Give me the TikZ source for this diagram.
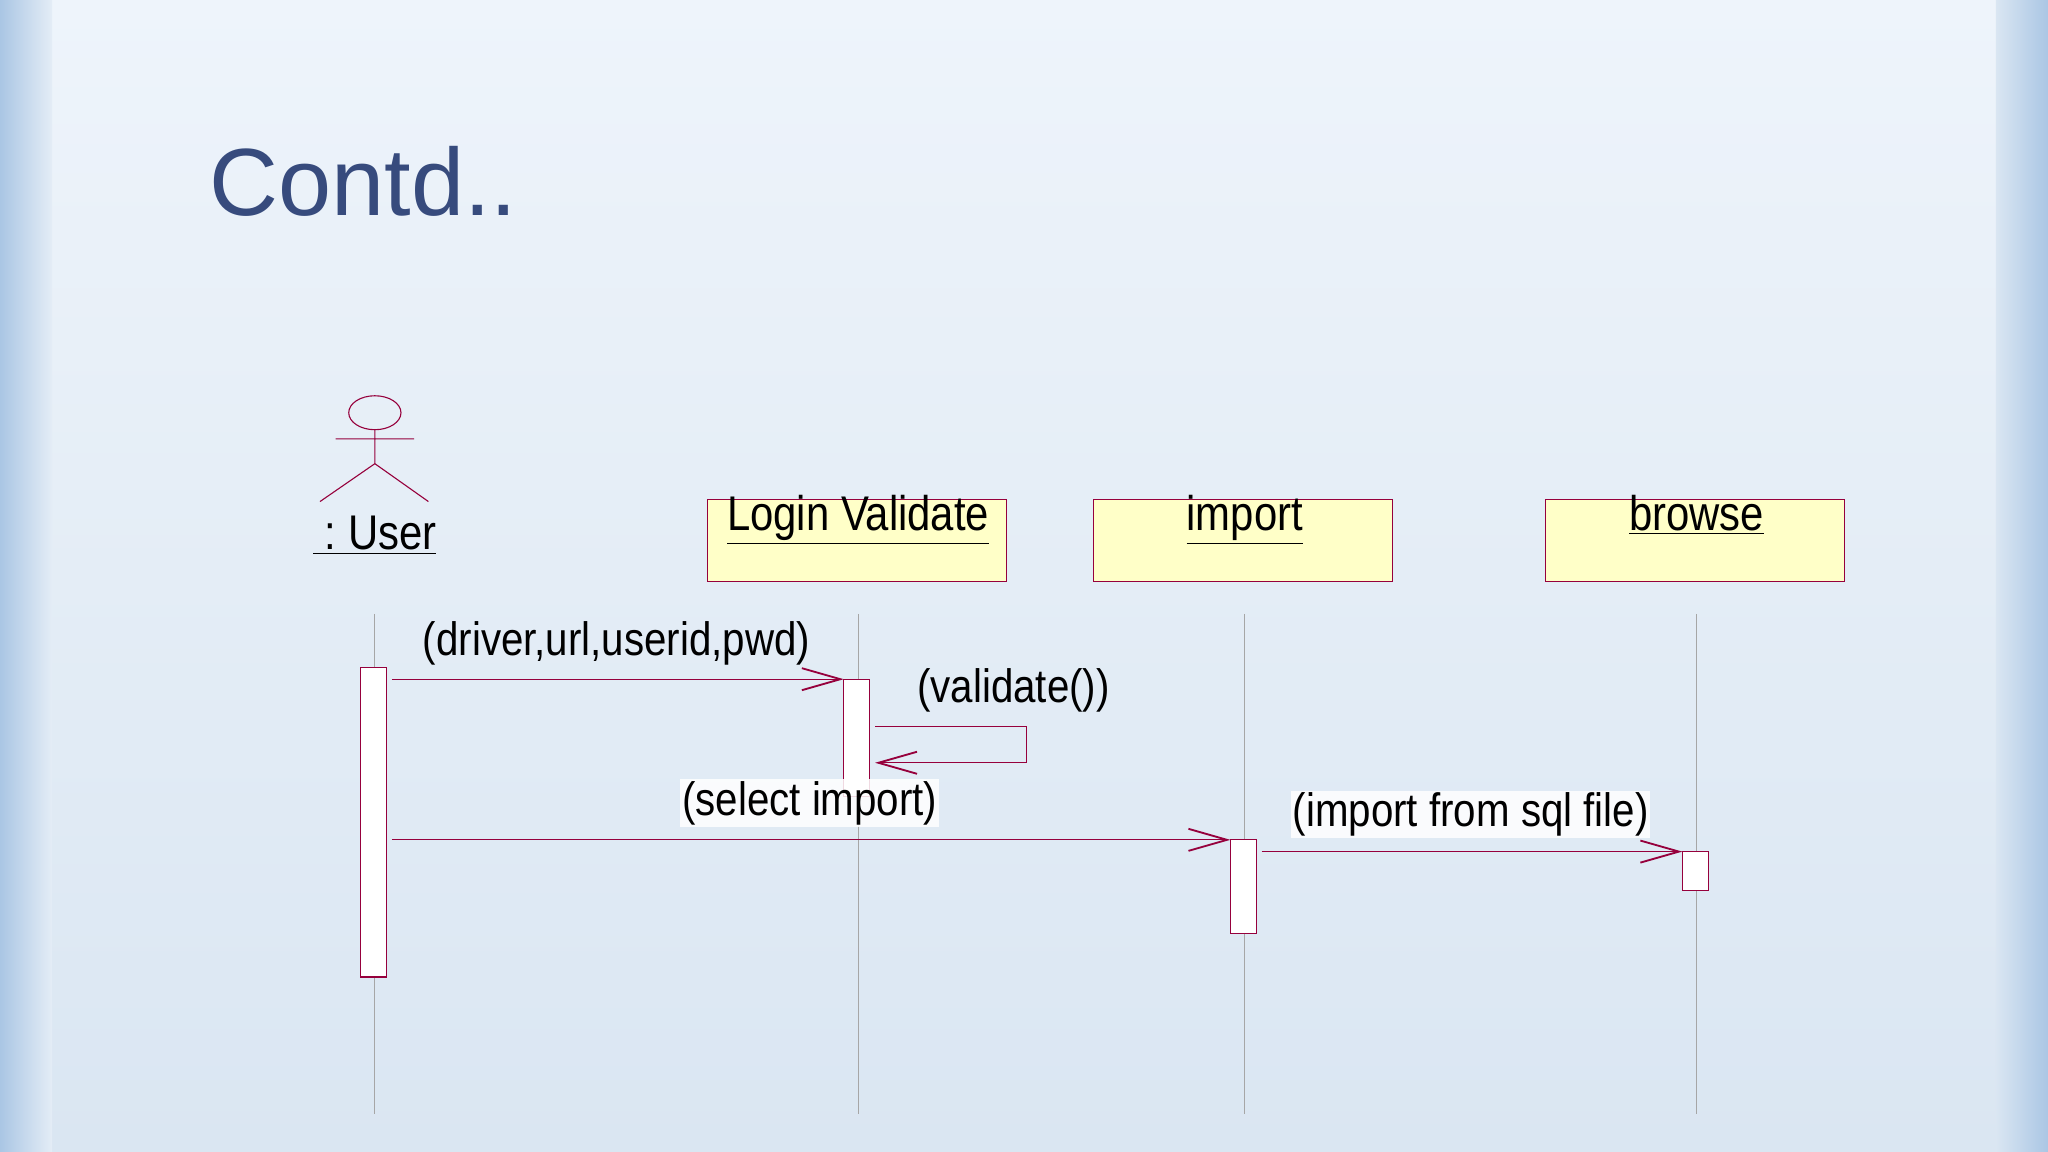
\documentclass[tikz,border=0pt]{standalone}
\usepackage{fontspec}
\setmainfont{Liberation Sans}
\newfontfamily\narrowf[FakeStretch=0.86]{Liberation Sans}
\usetikzlibrary{arrows.meta}
\definecolor{crim}{RGB}{150,0,60}
\definecolor{ttl}{RGB}{55,75,125}
\definecolor{bxfill}{RGB}{255,255,200}
\definecolor{bgtop}{RGB}{238,244,251}
\definecolor{bgmid}{RGB}{228,237,246}
\definecolor{bgbot}{RGB}{218,230,242}
\definecolor{bgedge}{RGB}{170,198,228}
\tikzset{
 msg/.style={draw=crim,line width=0.6pt,-{Straight Barb[length=21pt,width=12pt,line width=1pt]}},
 life/.style={draw=gray!70,line width=0.4pt},
 act/.style={draw=crim,fill=white,line width=0.6pt},
 obj/.style={draw=crim,fill=bxfill,line width=0.6pt},
 lbl/.style={font=\narrowf\fontsize{25.5}{28}\selectfont,inner sep=1pt},
 objlbl/.style={font=\narrowf\fontsize{26.5}{29}\selectfont,inner sep=1pt},
}
\begin{document}
\begin{tikzpicture}[x=0.025cm,y=-0.025cm]
\useasboundingbox (0,0) rectangle (1568,882);
\shade[top color=bgtop,bottom color=bgbot,middle color=bgmid] (0,0) rectangle (1568,882);
\shade[left color=bgedge,right color=bgmid] (0,0) rectangle (40,882);
\shade[left color=bgbot,right color=bgedge] (1528,0) rectangle (1568,882);
\node[anchor=base west,text=ttl,font=\fontsize{52}{60}\selectfont,inner sep=0] (title) at (160,165) {Contd..};
% actor
\draw[crim,line width=0.6pt] (287,316) ellipse (20 and 13);
\draw[crim,line width=0.6pt] (287,329) -- (287,355) (257,336) -- (317,336) (245,384) -- (287,355) -- (328,384);
\node[objlbl,anchor=base] (user) at (287,421) {\underline{\ :\ User}};
% objects
\node[obj,minimum width=229*0.025cm,minimum height=63*0.025cm,anchor=north west] (lv) at (541,382) {};
\node[obj,minimum width=229*0.025cm,minimum height=63*0.025cm,anchor=north west] (im) at (837,382) {};
\node[obj,minimum width=229*0.025cm,minimum height=63*0.025cm,anchor=north west] (br) at (1183,382) {};
\node[objlbl,anchor=base] (lvt) at (657,406) {\underline{Login Validate}};
\node[objlbl,anchor=base] (imt) at (953,406) {\underline{import}};
\node[objlbl,anchor=base] (brt) at (1299,406) {\underline{browse}};
% lifelines
\foreach \x/\n in {287/a,657/b,953/c,1299/d}{
 \coordinate (t\n) at (\x,470); \coordinate (b\n) at (\x,853);
 \draw[life] (t\n) -- (b\n);}
% activations
\draw[act] (276,511) rectangle (296,748);
\draw[act] (646,520) rectangle (666,610);
\draw[act] (942,643) rectangle (962,715);
\draw[act] (1288,652) rectangle (1308,682);
% messages
\coordinate (m1s) at (300,520); \coordinate (m1e) at (646,520);
\draw[msg] (m1s) -- (m1e);
\node[lbl,anchor=base] (l1) at (472,502) {(driver,url,userid,pwd)};
\coordinate (s1) at (670,556); \coordinate (s2) at (786,556); \coordinate (s3) at (786,584); \coordinate (s4) at (670,584);
\draw[msg] (s1) -- (s2) -- (s3) -- (s4);
\node[lbl,anchor=base] (l2) at (776,538) {(validate())};
\coordinate (m3s) at (300,643); \coordinate (m3e) at (942,643);
\draw[msg] (m3s) -- (m3e);
\node[lbl,anchor=base,fill=white,fill opacity=0.85,text opacity=1] (l3) at (620,624) {(select import)};
\coordinate (m4s) at (966,652); \coordinate (m4e) at (1288,652);
\draw[msg] (m4s) -- (m4e);
\node[lbl,anchor=base,fill=white,fill opacity=0.85,text opacity=1] (l4) at (1126,633) {(import from sql file)};
\end{tikzpicture}
\end{document}
